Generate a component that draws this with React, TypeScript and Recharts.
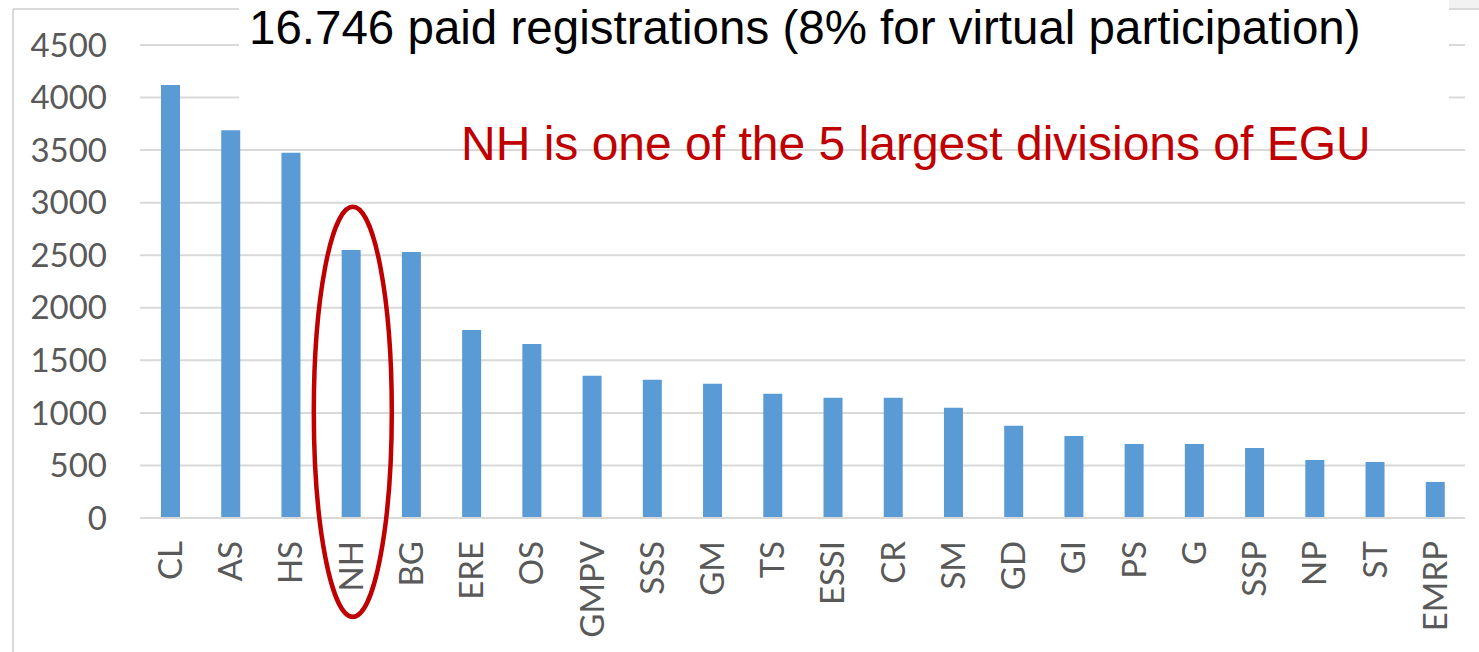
import React from 'react';
import { BarChart, Bar, XAxis, YAxis, CartesianGrid, ReferenceDot } from 'recharts';

const divisions = [
  'CL', 'AS', 'HS', 'NH', 'BG', 'ERE', 'OS', 'GMPV', 'SSS', 'GM', 'TS',
  'ESSI', 'CR', 'SM', 'GD', 'GI', 'PS', 'G', 'SSP', 'NP', 'ST', 'EMRP',
];
const registrations = [
  4120, 3690, 3475, 2550, 2530, 1788, 1656, 1353, 1315, 1277, 1182,
  1144, 1144, 1049, 878, 780, 704, 704, 666, 552, 533, 343,
];
const yTicks = [0, 500, 1000, 1500, 2000, 2500, 3000, 3500, 4000, 4500];

const title = '16.746 paid registrations (8% for virtual participation)';
const note = 'NH is one of the 5 largest divisions of EGU';
const highlighted = 'NH';
// value at the middle of the highlight ellipse
const highlightCenter = 1010;

const data = divisions.map((name, i) => ({ name, value: registrations[i] }));

const W = 1479;
const H = 652;
const GRID = '#D9D9D9';
const TICK = '#595959';
const RED = '#C00000';

function XTick({ x, y, payload }: any) {
  const ty = y + 23;
  return (
    <text
      x={x}
      y={ty}
      dy="0.36em"
      transform={`rotate(-90 ${x} ${ty})`}
      textAnchor="end"
      fill={TICK}
      fontSize={33}
      fontFamily="Lato, sans-serif"
    >
      {payload.value}
    </text>
  );
}

function Ellipse({ cx, cy }: any) {
  return <ellipse cx={cx + 2} cy={cy} rx={39} ry={205} fill="none" stroke={RED} strokeWidth={4.5} />;
}

export default function App() {
  return (
    <div style={{ position: 'absolute', left: 0, top: 0, width: W, height: H, background: '#fff', overflow: 'hidden' }}>
      <BarChart width={W} height={H} data={data} margin={{ top: 45, right: 14, left: 0, bottom: 0 }} barCategoryGap={0}>
        <CartesianGrid vertical={false} stroke={GRID} strokeWidth={2} />
        <XAxis
          dataKey="name"
          height={134}
          interval={0}
          tickLine={false}
          tickSize={0}
          tickMargin={0}
          axisLine={{ stroke: GRID, strokeWidth: 2 }}
          tick={<XTick />}
        />
        <YAxis
          width={140}
          domain={[0, 4500]}
          ticks={yTicks}
          axisLine={false}
          tickLine={false}
          tickSize={0}
          tickMargin={33}
          tick={{ fill: TICK, fontSize: 33, fontFamily: 'Lato, sans-serif' }}
        />
        <Bar dataKey="value" fill="#5B9BD5" barSize={19} isAnimationActive={false} />
        <ReferenceDot x={highlighted} y={highlightCenter} ifOverflow="visible" shape={<Ellipse />} />
      </BarChart>
      <svg width={W} height={H} style={{ position: 'absolute', left: 0, top: 0, pointerEvents: 'none' }}>
        <line x1={13} y1={9} x2={13} y2={H} stroke={GRID} strokeWidth={2} />
        <line x1={13} y1={9} x2={W} y2={9} stroke={GRID} strokeWidth={2} />
        <rect x={1449} y={0} width={30} height={8} fill="#F2F2F2" />
        <rect x={239} y={0} width={1210} height={112} fill="#fff" />
        <text x={249} y={44} fontSize={47.5} fontFamily="'Liberation Sans', Arial, sans-serif" fill="#000">
          {title}
        </text>
        <text x={461} y={160} fontSize={48} fontFamily="'Liberation Sans', Arial, sans-serif" fill={RED}>
          {note}
        </text>
      </svg>
    </div>
  );
}
